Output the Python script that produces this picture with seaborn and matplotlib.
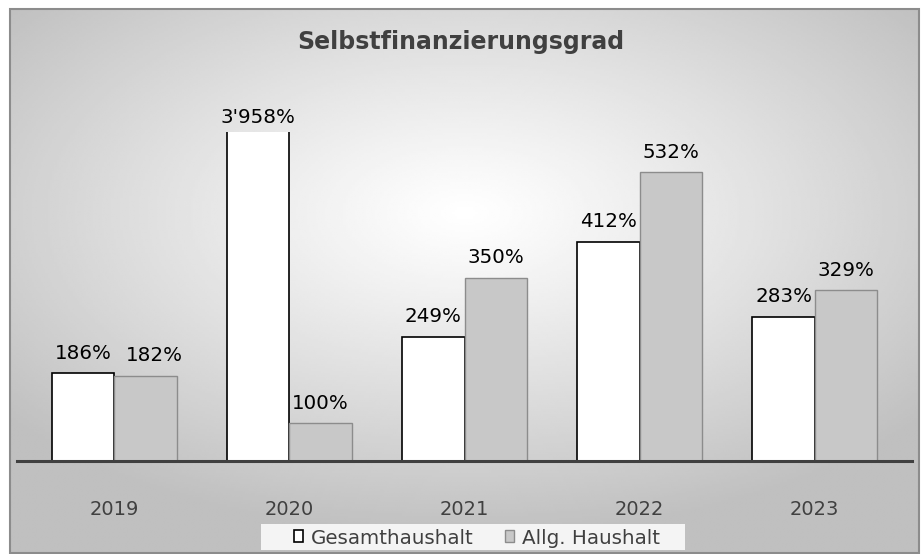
import numpy as np
import pandas as pd
import matplotlib.pyplot as plt
import seaborn as sns
from matplotlib.patches import Rectangle

plt.switch_backend('Agg')

# data
years = ["2019", "2020", "2021", "2022", "2023"]
gesamt = [186, 3958, 249, 412, 283]
allg = [182, 100, 350, 532, 329]
series_names = ["Gesamthaushalt", "Allg. Haushalt"]

df = pd.DataFrame({
    "Jahr": years * 2,
    "Wert": gesamt + allg,
    "Serie": [series_names[0]] * len(years) + [series_names[1]] * len(years),
})

sns.set_theme(style="white")
plt.rcParams['font.family'] = ['DejaVu Sans']

W, H = 921, 554
fig = plt.figure(figsize=(W / 100, H / 100), dpi=100)

# chart frame with radial gradient background
fx0, fy0, fx1, fy1 = 10, 9, 919, 553
bg = fig.add_axes([fx0 / W, 1 - fy1 / H, (fx1 - fx0) / W, (fy1 - fy0) / H], zorder=-2)
gx, gy = np.meshgrid(np.linspace(-1, 1, 400), np.linspace(-1, 1, 240))
r = np.sqrt((gx / 1.1) ** 2 + ((gy + 0.25) / 1.0) ** 2)
r = np.clip(r / 1.2, 0, 1)
shade = 1.0 - 0.25 * r ** 1.1
bg.imshow(shade, cmap="gray", vmin=0, vmax=1, aspect="auto", extent=[0, 1, 0, 1], interpolation="bilinear")
bg.set_axis_off()
fig.patches.append(Rectangle((fx0 / W, 1 - fy1 / H), (fx1 - fx0) / W, (fy1 - fy0) / H,
                             transform=fig.transFigure, fill=False, edgecolor="#8c8c8c", lw=1.5, zorder=5))

ax = fig.add_axes([17 / W, 1 - 461 / H, (912 - 17) / W, (461 - 132) / H])
ax.patch.set_alpha(0)

sns.barplot(data=df, x="Jahr", y="Wert", hue="Serie", palette=["#ffffff", "#c8c8c8"],
            width=0.714, gap=0, ax=ax, legend=False)

ymin, ymax = 35, 601
ax.set_ylim(ymin, ymax)
ax.set_xlim(-0.555, 4.555)

n = len(years)
for i, p in enumerate(ax.patches[:2 * n]):
    if i < n:
        p.set_edgecolor("#000000")
        p.set_linewidth(1.2)
    else:
        p.set_edgecolor("#8c8c8c")
        p.set_linewidth(1.0)
    val = gesamt[i] if i < n else allg[i - n]
    clipped = val > ymax
    top = ymax if clipped else val
    label = f"{val:,.0f}".replace(",", "'") + "%"
    dx = 0.05 if i == n else 0  # Excel nudges the 182% label to the right
    ax.text(p.get_x() + p.get_width() / 2 + dx, top + (8 if clipped else 18), label,
            ha="center", va="bottom", fontsize=14.3, color="#000000", clip_on=False)

for s in ["top", "right", "left"]:
    ax.spines[s].set_visible(False)
ax.spines["bottom"].set_color("#404040")
ax.spines["bottom"].set_linewidth(2.2)
ax.set_yticks([])
ax.set_xlabel("")
ax.set_ylabel("")
ax.tick_params(axis="x", length=0, pad=28, labelsize=14, labelcolor="#404040")

fig.text(0.5, 1 - 42 / H, "Selbstfinanzierungsgrad", ha="center", va="center",
         fontsize=17, fontweight="bold", color="#404040")

# legend
fig.patches.append(Rectangle((261 / W, 1 - 550 / H), (685 - 261) / W, (550 - 524) / H,
                             transform=fig.transFigure, facecolor="#f4f4f4", edgecolor="none", zorder=1))
handles = [Rectangle((0, 0), 1, 1, facecolor="#ffffff", edgecolor="#000000", lw=1.2),
           Rectangle((0, 0), 1, 1, facecolor="#c8c8c8", edgecolor="#8c8c8c", lw=1.0)]
leg = fig.legend(handles, series_names, loc="center", bbox_to_anchor=(477 / W, 1 - 538 / H),
                 ncol=2, frameon=False, fontsize=14.3, handlelength=0.45, handleheight=0.55,
                 handletextpad=0.4, columnspacing=1.6, borderpad=0.1)
leg.set_zorder(6)
for t in leg.get_texts():
    t.set_color("#404040")

fig.savefig("out.png", dpi=100)
